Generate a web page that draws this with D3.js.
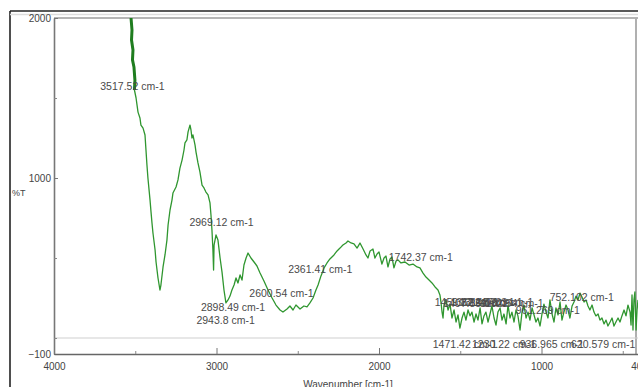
<!DOCTYPE html>
<html>
<head>
<meta charset="utf-8">
<script src="https://cdn.jsdelivr.net/npm/d3@7"></script>
<style>
  html, body { margin: 0; padding: 0; background: #fff; }
  svg { display: block; font-family: "Liberation Sans", Arial, sans-serif; }
</style>
</head>
<body>
<svg id="chart" width="638" height="387"></svg>
<script>
// FTIR spectrum: wavenumber (cm-1) vs %T
const wavenumber = [
  3526, 3520, 3523, 3514, 3517, 3508, 3502, 3505, 3495, 3489, 3483, 3471, 3465, 3452, 3440, 3434,
  3428, 3422, 3409, 3403, 3397, 3391, 3378, 3372, 3360, 3348, 3342, 3329, 3317, 3305, 3298, 3286,
  3274, 3268, 3249, 3237, 3225, 3212, 3200, 3194, 3182, 3175, 3163, 3157, 3151, 3145, 3132, 3126,
  3114, 3102, 3089, 3077, 3065, 3052, 3040, 3034, 3028, 3022, 3018, 3015, 3003, 2991, 2978, 2966,
  2954, 2942, 2929, 2917, 2905, 2892, 2880, 2868, 2855, 2843, 2831, 2818, 2806, 2788, 2769, 2751,
  2732, 2708, 2683, 2658, 2634, 2609, 2591, 2566, 2548, 2529, 2511, 2486, 2462, 2443, 2425, 2406,
  2388, 2375, 2357, 2338, 2320, 2302, 2277, 2258, 2240, 2222, 2203, 2191, 2172, 2154, 2135, 2117,
  2098, 2080, 2068, 2055, 2037, 2025, 2012, 2000, 1982, 1969, 1957, 1945, 1932, 1920, 1908, 1895,
  1883, 1865, 1840, 1815, 1791, 1766, 1748, 1729, 1711, 1692, 1674, 1655, 1637, 1625, 1618, 1612,
  1606, 1600, 1588, 1575, 1563, 1551, 1538, 1526, 1514, 1502, 1489, 1477, 1465, 1452, 1440, 1428,
  1415, 1403, 1391, 1378, 1366, 1354, 1342, 1329, 1317, 1305, 1292, 1280, 1268, 1255, 1243, 1231,
  1218, 1206, 1194, 1182, 1169, 1157, 1145, 1132, 1120, 1108, 1095, 1083, 1071, 1058, 1046, 1034,
  1022, 1009, 997, 985, 972, 960, 948, 935, 923, 911, 898, 886, 874, 862, 849, 837,
  825, 812, 800, 788, 775, 763, 751, 738, 726, 714, 702, 689, 677, 665, 652, 640,
  628, 615, 603, 591, 578, 566, 554, 542, 529, 517, 505, 492, 480, 468, 455, 449,
  443, 437, 431, 425, 418, 412, 406
];
const transmittance = [
  2000, 1925, 1862, 1800, 1738, 1694, 1612, 1550, 1500, 1456, 1412, 1375, 1331, 1312, 1269, 1175,
  1081, 1000, 862, 788, 719, 656, 550, 475, 375, 300, 331, 444, 519, 612, 706, 800,
  862, 906, 944, 988, 1062, 1112, 1175, 1219, 1238, 1288, 1331, 1300, 1250, 1269, 1206, 1162,
  1094, 1038, 956, 938, 912, 894, 844, 769, 675, 550, 425, 581, 644, 612, 500, 412,
  300, 219, 238, 262, 300, 331, 375, 344, 394, 362, 456, 500, 531, 500, 475, 450,
  406, 356, 300, 250, 206, 175, 162, 181, 200, 175, 206, 181, 200, 194, 219, 250,
  300, 331, 388, 438, 469, 494, 519, 544, 562, 581, 594, 606, 594, 588, 562, 594,
  556, 519, 500, 544, 556, 500, 525, 538, 462, 500, 512, 444, 494, 506, 438, 481,
  488, 469, 475, 456, 462, 444, 438, 406, 381, 362, 344, 319, 300, 269, 219, 162,
  125, 206, 238, 175, 212, 125, 175, 100, 144, 62, 125, 162, 112, 175, 138, 162,
  100, 150, 112, 188, 88, 138, 162, 100, 150, 200, 125, 81, 162, 188, 112, 150,
  88, 206, 125, 162, 100, 175, 138, 50, 162, 206, 125, 162, 112, 188, 144, 100,
  125, 75, 150, 212, 162, 125, 238, 150, 100, 188, 144, 225, 112, 162, 206, 175,
  125, 200, 225, 262, 238, 281, 256, 225, 238, 200, 175, 206, 162, 138, 150, 112,
  125, 88, 112, 75, 100, 125, 75, 100, 125, 100, 138, 175, 138, 206, 162, 81,
  269, 50, 238, 288, 50, 175, 238
];

// Peak annotations: the stated wavenumber, and the %T level the text sits at
const peakLabels = [
  "3517.52", "2969.12", "2898.49", "2943.8", "2600.54", "2361.41", "1742.37",
  "1459.32", "1407.85", "1362.48", "1311.07", "1247.63", "1182.54", "961.269",
  "752.102", "1471.42", "1230.22", "936.965", "620.579"
];
const peakLabelT = [
  1575, 725, 194, 112, 281, 431, 506,
  225, 220, 228, 222, 226, 220, 175,
  256, -37, -37, -37, -37
];

// Axis ticks
const xMajorTicks = [4000, 3000, 2000, 1000, 400];
const xMinorTicks = [3500, 2500, 1500, 500];
const yMajorTicks = [2000, 1000, -100];
const yMinorTicks = [1500, 500, 0];

const svg = d3.select("#chart");
const plot = { left: 54, right: 636, top: 18, bottom: 354 };

const x = d3.scaleLinear().domain([4000, 400]).range([54, 639]);
const y = d3.scaleLinear().domain([-100, 2000]).range([354, 18]);

// outer window frame
svg.append("line").attr("x1", 10).attr("x2", 638).attr("y1", 11).attr("y2", 11)
  .attr("stroke", "#222").attr("stroke-width", 1.6);
svg.append("line").attr("x1", 10).attr("x2", 10).attr("y1", 11).attr("y2", 387)
  .attr("stroke", "#222").attr("stroke-width", 1.6);
svg.append("line").attr("x1", 10).attr("x2", 638).attr("y1", 14.5).attr("y2", 14.5)
  .attr("stroke", "#ddd").attr("stroke-width", 1.5);

// plot borders
svg.append("line").attr("x1", plot.left).attr("x2", 638).attr("y1", plot.top).attr("y2", plot.top)
  .attr("stroke", "#b5b5b5").attr("stroke-width", 2);
svg.append("line").attr("x1", plot.right).attr("x2", plot.right).attr("y1", plot.top).attr("y2", plot.bottom)
  .attr("stroke", "#b0b0b0").attr("stroke-width", 2);
// zero line
svg.append("line").attr("x1", plot.left).attr("x2", 638).attr("y1", y(0)).attr("y2", y(0))
  .attr("stroke", "#cfcfcf").attr("stroke-width", 1.2);

// axes
const yAxis = d3.axisLeft(y).tickValues(yMajorTicks).tickSizeInner(-4).tickSizeOuter(0).tickPadding(3)
  .tickFormat(d3.format("d"));
const gy = svg.append("g").attr("transform", `translate(${plot.left},0)`).call(yAxis);
gy.select(".domain").attr("stroke", "#777").attr("stroke-width", 1.6);
gy.selectAll(".tick line").attr("stroke", "#777");
gy.selectAll(".tick text").attr("fill", "#444").attr("font-size", 10)
  .attr("font-family", "Liberation Sans, Arial, sans-serif");

const yMinor = d3.axisLeft(y).tickValues(yMinorTicks).tickSizeInner(-3).tickSizeOuter(0).tickFormat("");
const gym = svg.append("g").attr("transform", `translate(${plot.left},0)`).call(yMinor);
gym.select(".domain").remove();
gym.selectAll(".tick line").attr("stroke", "#888");

const xAxis = d3.axisBottom(x).tickValues(xMajorTicks).tickSizeInner(-6).tickSizeOuter(0).tickPadding(9)
  .tickFormat(d3.format("d"));
const gx = svg.append("g").attr("transform", `translate(0,${plot.bottom})`).call(xAxis);
gx.select(".domain").attr("stroke", "#666").attr("stroke-width", 1.6);
gx.selectAll(".tick line").attr("stroke", "#777");
gx.selectAll(".tick text").attr("fill", "#444").attr("font-size", 10)
  .attr("font-family", "Liberation Sans, Arial, sans-serif");

const xMinor = d3.axisBottom(x).tickValues(xMinorTicks).tickSizeInner(-3).tickSizeOuter(0).tickFormat("");
const gxm = svg.append("g").attr("transform", `translate(0,${plot.bottom})`).call(xMinor);
gxm.select(".domain").remove();
gxm.selectAll(".tick line").attr("stroke", "#888");

// axis titles
svg.append("text").attr("x", 12).attr("y", 196).text("%T")
  .attr("font-size", 9).attr("fill", "#444");
svg.append("text").attr("x", 348).attr("y", 388).attr("text-anchor", "middle")
  .text("Wavenumber [cm-1]").attr("font-size", 10).attr("fill", "#444");

// spectrum trace
svg.append("clipPath").attr("id", "plotClip").append("rect")
  .attr("x", plot.left).attr("y", plot.top).attr("width", 640 - plot.left).attr("height", plot.bottom - plot.top);

const points = wavenumber.map((w, i) => [w, transmittance[i]]);
const line = d3.line().x(d => x(d[0])).y(d => y(d[1]));
svg.append("path")
  .datum(points)
  .attr("clip-path", "url(#plotClip)")
  .attr("d", line)
  .attr("fill", "none")
  .attr("stroke", "#2f962f")
  .attr("stroke-width", 1.3)
  .attr("stroke-linejoin", "round");

// the steep O-H edge is densely sampled and renders as a heavier stroke
svg.append("path")
  .datum(points.filter(d => d[0] >= 3500))
  .attr("clip-path", "url(#plotClip)")
  .attr("d", line)
  .attr("fill", "none")
  .attr("stroke", "#1f7d1f")
  .attr("stroke-width", 3)
  .attr("stroke-linejoin", "round");

// peak labels
svg.append("g").selectAll("text")
  .data(peakLabels)
  .join("text")
  .attr("x", d => x(+d))
  .attr("y", (d, i) => y(peakLabelT[i]) + 4)
  .attr("text-anchor", "middle")
  .attr("font-size", 10.5)
  .attr("fill", "#4a4a4a")
  .text(d => `${d} cm-1`);
</script>
</body>
</html>
